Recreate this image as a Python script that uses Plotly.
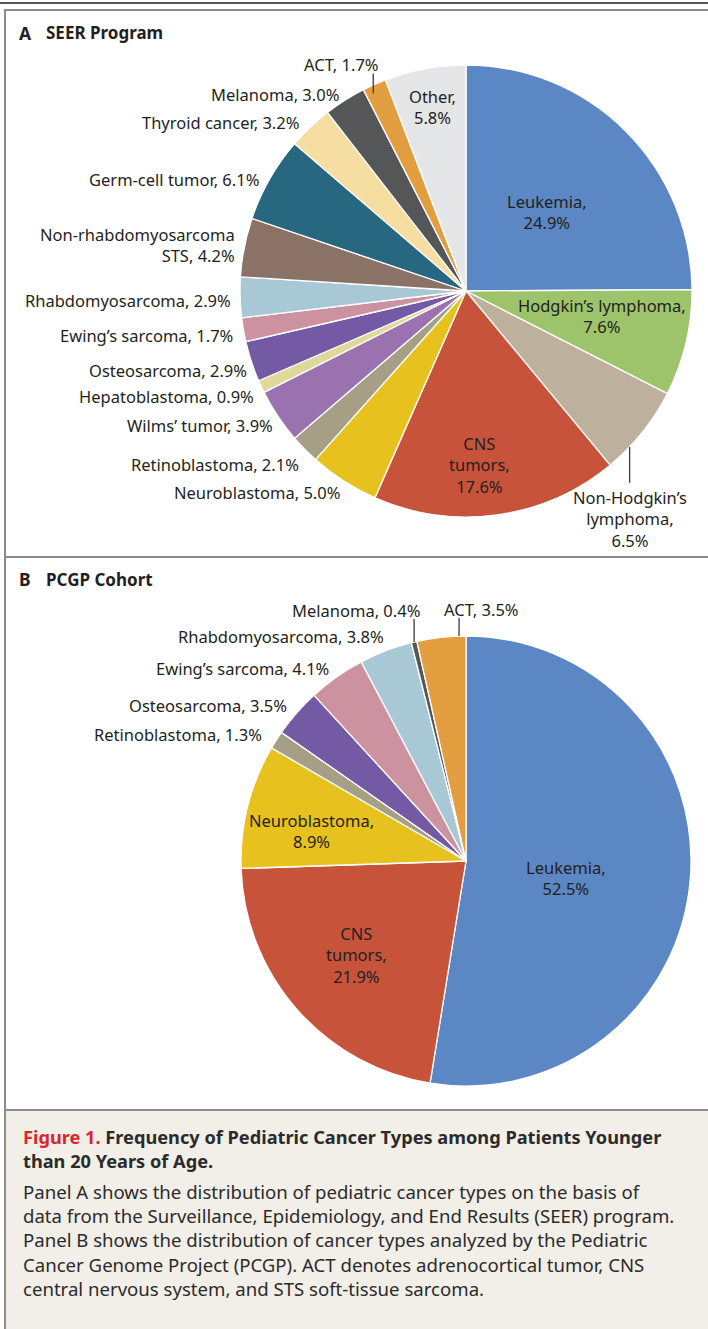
import math
import plotly.graph_objects as go

W, H = 708, 1329

# ---------------- data ----------------
seer_labels = ["Leukemia", "Hodgkin’s lymphoma", "Non-Hodgkin’s\nlymphoma", "CNS\ntumors",
               "Neuroblastoma", "Retinoblastoma", "Wilms’ tumor", "Hepatoblastoma",
               "Osteosarcoma", "Ewing’s sarcoma", "Rhabdomyosarcoma",
               "Non-rhabdomyosarcoma\nSTS", "Germ-cell tumor", "Thyroid cancer",
               "Melanoma", "ACT", "Other"]
seer_values = [24.9, 7.6, 6.5, 17.6, 5.0, 2.1, 3.9, 0.9, 2.9, 1.7, 2.9, 4.2, 6.1, 3.2, 3.0, 1.7, 5.8]

pcgp_labels = ["Leukemia", "CNS\ntumors", "Neuroblastoma", "Retinoblastoma", "Osteosarcoma",
               "Ewing’s sarcoma", "Rhabdomyosarcoma", "Melanoma", "ACT"]
pcgp_values = [52.5, 21.9, 8.9, 1.3, 3.5, 4.1, 3.8, 0.4, 3.5]

# ---------------- styles ----------------
color_map = {
    "Leukemia": "#5B87C4", "Hodgkin’s lymphoma": "#9DC46A", "Non-Hodgkin’s\nlymphoma": "#BDB19D",
    "CNS\ntumors": "#C8533B", "Neuroblastoma": "#E7C21F", "Retinoblastoma": "#A69F86",
    "Wilms’ tumor": "#9A72B0", "Hepatoblastoma": "#E0D89A", "Osteosarcoma": "#7459A4",
    "Ewing’s sarcoma": "#CC929F", "Rhabdomyosarcoma": "#A9C8D6",
    "Non-rhabdomyosarcoma\nSTS": "#8B7266", "Germ-cell tumor": "#27677F",
    "Thyroid cancer": "#F6DDA1", "Melanoma": "#555658", "ACT": "#E39E3F", "Other": "#E5E6E8",
}

# label placement (layout only)
seer_place = [
    dict(mode="in", r=0.50, da=1),
    dict(mode="in", r=0.61, da=-3),
    dict(mode="lead", f=0.71, r=1.0, L=36, side="down"),
    dict(mode="in", r=0.77, da=3.5),
    dict(mode="out", dx=3, dy=5),
    dict(mode="out", dx=2, dy=10),
    dict(mode="out", dx=4, dy=5),
    dict(mode="out", dx=2, dy=7),
    dict(mode="out", dx=5, dy=6),
    dict(mode="out", dx=0, dy=4),
    dict(mode="out", dx=1, dy=3),
    dict(mode="out", dx=1, dy=-1),
    dict(mode="out", dx=-2, dy=4),
    dict(mode="out", dx=-4, dy=1),
    dict(mode="out", dx=0, dy=1),
    dict(mode="lead", f=0.3, r=0.965, L=20, side="upleft"),
    dict(mode="in", r=0.83, da=0),
]
pcgp_place = [
    dict(mode="in", r=0.45, da=5),
    dict(mode="in", r=0.64, da=0.6),
    dict(mode="in", r=0.70, da=-3.2),
    dict(mode="out", dx=-6, dy=-1),
    dict(mode="out", dx=-2, dy=-2),
    dict(mode="out", dx=-1, dy=-2),
    dict(mode="out", dx=3, dy=-7),
    dict(mode="lead", f=0.5, r=1.0, L=23, side="upleft"),
    dict(mode="lead", f=0.86, r=1.0, L=18, side="upright"),
]

FAMILY = "Noto Sans, Open Sans, sans-serif"
LABEL_FONT = dict(family=FAMILY, size=16.5, color="#231F20")
TEXT_DARK = "#231F20"


def px(x):
    return x / W


def py(y):
    return 1 - y / H


fig = go.Figure()
annotations = []
shapes = []


def add_pie(labels, values, cx, cy, R, place):
    fig.add_trace(go.Pie(
        labels=[l.replace("\n", " ") for l in labels],
        values=values,
        sort=False,
        direction="clockwise",
        rotation=0,
        textinfo="none",
        hoverinfo="label+value",
        marker=dict(colors=[color_map[l] for l in labels], line=dict(color="white", width=1.3)),
        domain=dict(x=[px(cx - R), px(cx + R)], y=[py(cy + R), py(cy - R)]),
        showlegend=False,
    ))
    total = sum(values)
    cum = 0.0
    for lab, v, p in zip(labels, values, place):
        a0 = cum / total * 360
        a1 = (cum + v) / total * 360
        cum += v
        val = f"{v:.1f}%"
        mode = p["mode"]
        if mode == "in":
            a = math.radians((a0 + a1) / 2 + p.get("da", 0))
            r = p["r"] * R
            x = cx + r * math.sin(a)
            y = cy - r * math.cos(a)
            text = lab.replace("\n", "<br>") + ",<br>" + val
            annotations.append(dict(x=px(x), y=py(y), xref="paper", yref="paper", text=text,
                                    showarrow=False, xanchor="center", yanchor="middle",
                                    align="center", font=LABEL_FONT))
        elif mode == "out":
            a = math.radians((a0 + a1) / 2)
            r = R + 8
            x = cx + r * math.sin(a) + p.get("dx", 0)
            y = cy - r * math.cos(a) + p.get("dy", 0)
            text = lab.replace("\n", "<br>") + ", " + val
            annotations.append(dict(x=px(x), y=py(y), xref="paper", yref="paper", text=text,
                                    showarrow=False, xanchor="right", yanchor="middle",
                                    align="right", font=LABEL_FONT))
        else:
            a = math.radians(a0 + p["f"] * (a1 - a0))
            r = p["r"] * R
            x = cx + r * math.sin(a)
            y = cy - r * math.cos(a)
            if p["side"] == "down":
                y2 = y + p["L"]
                text = lab.replace("\n", "<br>") + ",<br>" + val
                annotations.append(dict(x=px(x), y=py(y2 + 1), xref="paper", yref="paper",
                                        text=text, showarrow=False, xanchor="center",
                                        yanchor="top", align="center", font=LABEL_FONT))
            else:
                y2 = y - p["L"]
                text = lab.replace("\n", " ") + ", " + val
                if p["side"] == "upleft":
                    annotations.append(dict(x=px(x + 8), y=py(y2 - 9), xref="paper", yref="paper",
                                            text=text, showarrow=False, xanchor="right",
                                            yanchor="middle", font=LABEL_FONT))
                else:
                    annotations.append(dict(x=px(x - 17), y=py(y2 - 9), xref="paper", yref="paper",
                                            text=text, showarrow=False, xanchor="left",
                                            yanchor="middle", font=LABEL_FONT))
            shapes.append(dict(type="line", xref="paper", yref="paper",
                               x0=px(x), x1=px(x), y0=py(y), y1=py(y2),
                               line=dict(color="#3a3a3a", width=1.3), layer="above"))


add_pie(seer_labels, seer_values, 466, 291, 226, seer_place)
add_pie(pcgp_labels, pcgp_values, 466, 861, 225, pcgp_place)

# ---------------- frame ----------------
FRAME = "#8C8C8C"
shapes += [
    dict(type="rect", xref="paper", yref="paper", x0=px(5), x1=px(W + 20), y0=py(1110), y1=py(H + 20),
         fillcolor="#F2EEE8", line=dict(color=FRAME, width=2), layer="below"),
    dict(type="rect", xref="paper", yref="paper", x0=px(5), x1=px(W + 20), y0=py(10), y1=py(H + 20),
         fillcolor="rgba(0,0,0,0)", line=dict(color=FRAME, width=2), layer="below"),
    dict(type="line", xref="paper", yref="paper", x0=px(5), x1=px(W + 20), y0=py(557), y1=py(557),
         line=dict(color=FRAME, width=2), layer="below"),
    dict(type="line", xref="paper", yref="paper", x0=0, x1=1, y0=py(3), y1=py(3),
         line=dict(color="#555555", width=2), layer="below"),
]

TITLE_FONT = dict(family=FAMILY, size=17, color=TEXT_DARK)
for letter, title, yy in [("A", "SEER Program", 33), ("B", "PCGP Cohort", 579)]:
    annotations.append(dict(x=px(17), y=py(yy), xref="paper", yref="paper", text=f"<b>{letter}</b>",
                            showarrow=False, xanchor="left", yanchor="middle",
                            font=dict(family=FAMILY, size=17.5, color=TEXT_DARK)))
    annotations.append(dict(x=px(44), y=py(yy), xref="paper", yref="paper", text=f"<b>{title}</b>",
                            showarrow=False, xanchor="left", yanchor="middle", font=TITLE_FONT))

caption_title = ("<span style='color:#D9262F'><b>Figure 1.</b></span>"
                 "<b> Frequency of Pediatric Cancer Types among Patients Younger</b><br>"
                 "<b>than 20 Years of Age.</b>")
caption_body = ("Panel A shows the distribution of pediatric cancer types on the basis of<br>"
                "data from the Surveillance, Epidemiology, and End Results (SEER) program.<br>"
                "Panel B shows the distribution of cancer types analyzed by the Pediatric<br>"
                "Cancer Genome Project (PCGP). ACT denotes adrenocortical tumor, CNS<br>"
                "central nervous system, and STS soft-tissue sarcoma.")
annotations.append(dict(x=px(21), y=py(1149), xref="paper", yref="paper", text=caption_title,
                        showarrow=False, xanchor="left", yanchor="middle", align="left",
                        font=dict(family=FAMILY, size=18.2, color="#2B2B2B")))
annotations.append(dict(x=px(21), y=py(1240), xref="paper", yref="paper", text=caption_body,
                        showarrow=False, xanchor="left", yanchor="middle", align="left",
                        font=dict(family=FAMILY, size=18.6, color="#2B2B2B")))

fig.update_layout(
    width=W, height=H,
    margin=dict(l=0, r=0, t=0, b=0),
    paper_bgcolor="white", plot_bgcolor="white",
    annotations=annotations, shapes=shapes,
    showlegend=False,
)

fig.write_html("out.html", config={"displayModeBar": False},
               post_script="document.body.style.margin='0';document.body.style.padding='0';")
